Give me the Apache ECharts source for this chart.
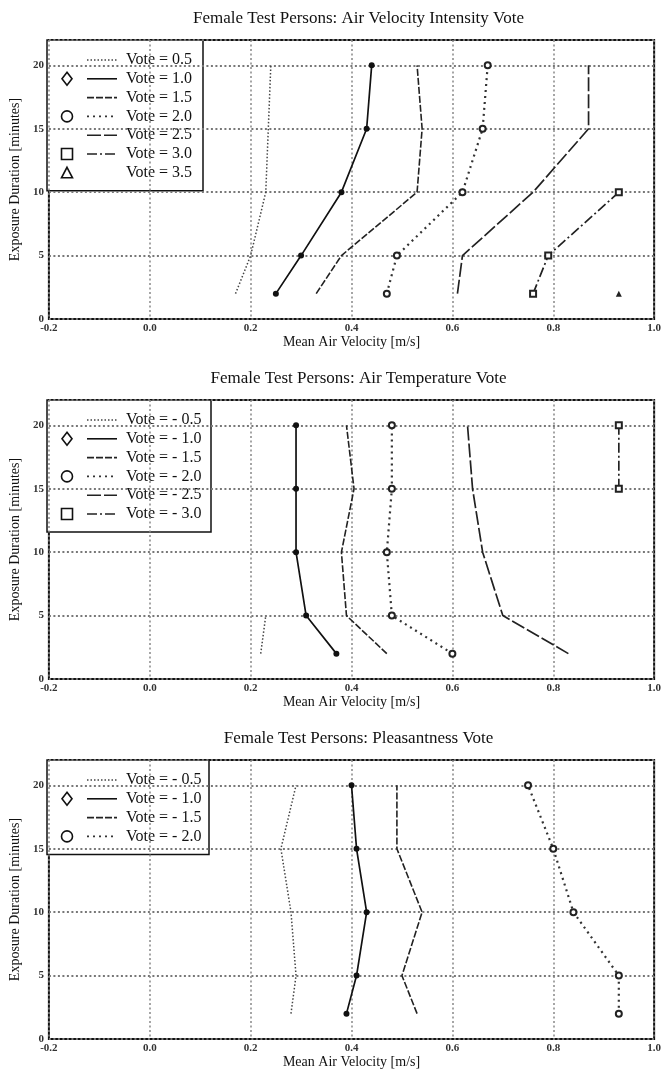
<!DOCTYPE html>
<html>
<head>
<meta charset="utf-8">
<script src="https://cdn.jsdelivr.net/npm/echarts@6/dist/echarts.min.js"></script>
<style>
  html, body { margin: 0; padding: 0; background: #fff; }
  #showChart { width: 664px; height: 1072px; }
</style>
</head>
<body>
<div id="showChart"></div>
<script>
// exposure duration (minutes) at which each mean air velocity was measured
const durations = [2, 5, 10, 15, 20];

// panel 1: air velocity intensity vote
const intensityTitle = "Female Test Persons: Air Velocity Intensity Vote";
const intensityNames = ["Vote = 0.5", "Vote = 1.0", "Vote = 1.5", "Vote = 2.0", "Vote = 2.5", "Vote = 3.0", "Vote = 3.5"];
const intensityV05 = [0.17, 0.20, 0.23, 0.235, 0.24];
const intensityV10 = [0.25, 0.30, 0.38, 0.43, 0.44];
const intensityV15 = [0.33, 0.38, 0.53, 0.54, 0.53];
const intensityV20 = [0.47, 0.49, 0.62, 0.66, 0.67];
const intensityV25 = [0.61, 0.62, 0.76, 0.87, 0.87];
const intensityV30 = [0.76, 0.79, 0.93, null, null];
const intensityV35 = [0.93, null, null, null, null];

// panel 2: air temperature vote
const tempTitle = "Female Test Persons: Air Temperature Vote";
const tempNames = ["Vote = - 0.5", "Vote = - 1.0", "Vote = - 1.5", "Vote = - 2.0", "Vote = - 2.5", "Vote = - 3.0"];
const tempVm05 = [0.22, 0.23, null, null, null];
const tempVm10 = [0.37, 0.31, 0.29, 0.29, 0.29];
const tempVm15 = [0.47, 0.39, 0.38, 0.405, 0.39];
const tempVm20 = [0.60, 0.48, 0.47, 0.48, 0.48];
const tempVm25 = [0.83, 0.70, 0.66, 0.64, 0.63];
const tempVm30 = [null, null, null, 0.93, 0.93];

// panel 3: pleasantness vote
const pleasTitle = "Female Test Persons: Pleasantness Vote";
const pleasNames = ["Vote = - 0.5", "Vote = - 1.0", "Vote = - 1.5", "Vote = - 2.0"];
const pleasVm05 = [0.28, 0.29, 0.28, 0.26, 0.29];
const pleasVm10 = [0.39, 0.41, 0.43, 0.41, 0.40];
const pleasVm15 = [0.53, 0.50, 0.54, 0.49, 0.49];
const pleasVm20 = [0.93, 0.93, 0.84, 0.80, 0.75];

// axis ticks
const xMin = -0.2, xMax = 1.0, xStep = 0.2;
const yMin = 0, yMax = 22, yStep = 5;

const FONT = '"Liberation Serif", "Times New Roman", serif';

// line look per vote level (0.5, 1.0, 1.5, ...)
const looks = [
  { dash: [1.5, 2], width: 1.5, color: "#444", symbol: "none" },
  { dash: "solid", width: 1.7, color: "#111", symbol: "circle", size: 6, fill: "#111", legend: "diamond" },
  { dash: [7, 2], width: 1.6, color: "#222", symbol: "none" },
  { dash: [2, 4], width: 2.2, color: "#333", symbol: "circle", size: 6, fill: "#fff", legend: "circle" },
  { dash: [14, 3], width: 1.7, color: "#222", symbol: "none" },
  { dash: [10, 3, 2, 3], width: 1.7, color: "#222", symbol: "rect", size: 6, fill: "#fff", legend: "square" },
  { dash: "solid", width: 0, color: "#222", symbol: "triangle", size: 6, fill: "#222", legend: "triangle" },
];

const panels = [
  { title: intensityTitle, names: intensityNames, values: [intensityV05, intensityV10, intensityV15, intensityV20, intensityV25, intensityV30, intensityV35], top: 40, legendW: 156 },
  { title: tempTitle, names: tempNames, values: [tempVm05, tempVm10, tempVm15, tempVm20, tempVm25, tempVm30], top: 400, legendW: 164 },
  { title: pleasTitle, names: pleasNames, values: [pleasVm05, pleasVm10, pleasVm15, pleasVm20], top: 760, legendW: 162 },
];

const gridLeft = 47, gridWidth = 613, gridHeight = 279;

function pairs(vals) {
  const out = [];
  vals.forEach(function (v, i) {
    if (v !== null) out.push([v, durations[i]]);
  });
  return out;
}

function legendBox(p) {
  const rowGap = 18.8;
  const h = 20 + (p.names.length - 1) * rowGap + 18;
  const children = [
    { type: "rect", shape: { x: 0, y: 0, width: p.legendW, height: h }, style: { fill: "#fff", stroke: "#111", lineWidth: 1.5 } },
  ];
  p.names.forEach(function (name, i) {
    const look = looks[i];
    const cy = 20 + i * rowGap;
    const mk = { stroke: "#111", fill: "#fff", lineWidth: 1.6 };
    if (look.legend === "diamond") {
      children.push({ type: "polygon", shape: { points: [[20, cy - 6.5], [25, cy], [20, cy + 6.5], [15, cy]] }, style: mk });
    } else if (look.legend === "circle") {
      children.push({ type: "circle", shape: { cx: 20, cy: cy, r: 5.5 }, style: mk });
    } else if (look.legend === "square") {
      children.push({ type: "rect", shape: { x: 14.5, y: cy - 5.5, width: 11, height: 11 }, style: mk });
    } else if (look.legend === "triangle") {
      children.push({ type: "polygon", shape: { points: [[20, cy - 5.5], [25.5, cy + 5], [14.5, cy + 5]] }, style: mk });
    }
    if (look.width > 0) {
      children.push({
        type: "line",
        shape: { x1: 40, y1: cy, x2: 70, y2: cy },
        style: { stroke: look.color, lineWidth: Math.min(look.width, 1.6), lineDash: look.dash === "solid" ? null : look.dash },
      });
    }
    children.push({
      type: "text", x: 79, y: cy,
      style: { text: name, fill: "#111", font: "16px " + FONT, verticalAlign: "middle" },
    });
  });
  return { type: "group", x: gridLeft, y: p.top, z: 100, children: children };
}

let myChart = echarts.init(document.getElementById("showChart"));

const option = {
  backgroundColor: "#fff",
  animation: false,
  title: [],
  grid: [],
  xAxis: [],
  yAxis: [],
  series: [],
  graphic: [],
};

panels.forEach(function (p, k) {
  option.title.push({
    text: p.title,
    left: gridLeft + gridWidth / 2,
    top: p.top - 35,
    textAlign: "center",
    textStyle: { fontFamily: FONT, fontSize: 17, fontWeight: "normal", color: "#111" },
  });
  option.grid.push({
    left: gridLeft, top: p.top, width: gridWidth, height: gridHeight,
    show: true, borderColor: "#111", borderWidth: 2, backgroundColor: "transparent",
  });
  option.xAxis.push({
    type: "value", gridIndex: k, min: xMin, max: xMax, interval: xStep,
    name: "Mean Air Velocity [m/s]", nameLocation: "middle", nameGap: 15,
    nameTextStyle: { fontFamily: FONT, fontSize: 14, color: "#111" },
    axisLine: { show: false }, axisTick: { show: false },
    axisLabel: {
      margin: 4, fontFamily: FONT, fontSize: 11, fontWeight: "bold", color: "#333",
      formatter: function (v) { return v.toFixed(1); },
    },
    splitLine: { show: true, lineStyle: { color: "#888", width: 1.5, type: [2, 2.5] } },
  });
  option.yAxis.push({
    type: "value", gridIndex: k, min: yMin, max: yMax, interval: yStep,
    name: "Exposure Duration [minutes]", nameLocation: "middle", nameGap: 21,
    nameTextStyle: { fontFamily: FONT, fontSize: 14, color: "#111" },
    axisLine: { show: false }, axisTick: { show: false },
    axisLabel: { margin: 5, fontFamily: FONT, fontSize: 11, fontWeight: "bold", color: "#333", showMaxLabel: false },
    splitLine: { show: true, lineStyle: { color: "#777", width: 1.8, type: [2, 2.5] } },
  });
  p.values.forEach(function (vals, i) {
    const look = looks[i];
    option.series.push({
      name: p.names[i],
      type: "line",
      xAxisIndex: k,
      yAxisIndex: k,
      data: pairs(vals),
      showSymbol: look.symbol !== "none",
      symbol: look.symbol,
      symbolSize: look.size || 0,
      itemStyle: { color: look.fill || look.color, borderColor: "#222", borderWidth: look.fill === "#fff" ? 2 : 0 },
      lineStyle: { color: look.color, width: look.width, type: look.dash },
      z: 5,
    });
  });
  option.graphic.push(legendBox(p));
});

myChart.setOption(option);
</script>
</body>
</html>
